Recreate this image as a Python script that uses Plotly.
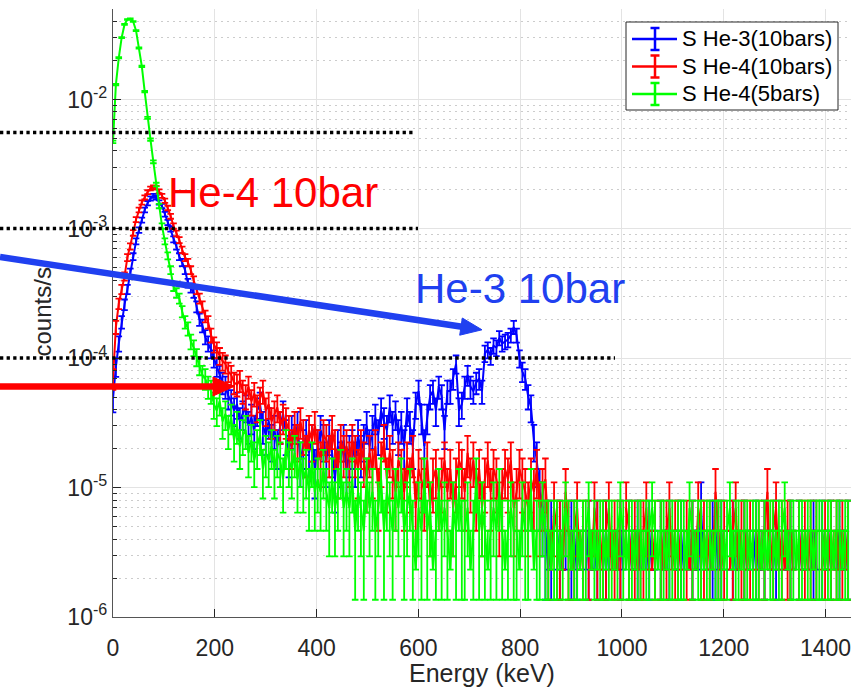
import numpy as np
import plotly.graph_objects as go

# ---------------- data (histogram counts per bin) ----------------
BIN_WIDTH_KEV = 1450 / 256          # energy width of one histogram bin
RATE_PER_COUNT = 2.32e-6            # counts/s corresponding to one recorded count

SERIES_NAMES = ["S He-3(10bars)", "S He-4(10bars)", "S He-4(5bars)"]
SERIES_COLORS = ["#0000ff", "#ff0000", "#00ff00"]

blue_counts = [
    21, 37, 56, 82, 112, 147, 198, 263, 345, 422, 504, 603, 681, 741, 776, 754, 690, 647, 560, 483,
    431, 358, 315, 263, 237, 207, 164, 151, 138, 108, 86, 77, 63, 56, 50, 43, 37, 32, 28, 26, 22,
    20, 17, 19, 14, 16, 18, 13, 15, 12, 17, 19, 13, 11, 14, 10, 12, 9, 13, 16, 11,
    8, 12, 10, 13, 7, 9, 11, 8, 10, 6, 9, 12, 10, 7, 11, 8, 5, 9, 7, 10,
    6, 8, 9, 7, 11, 8, 10, 13, 9, 12, 15, 11, 17, 14, 12, 18, 13, 16, 11,
    13, 9, 17, 13, 9, 19, 24, 15, 9, 15, 22, 24, 17, 26, 22, 12, 24, 24, 30, 39,
    17, 19, 26, 32, 26, 24, 28, 30, 24, 47, 50, 45, 54, 52, 62, 56, 58, 60, 65, 75,
    65, 43, 34, 30, 22, 18, 10, 7, 4, 3,
    2, 1, 2, 0, 1, 2, 1, 1, 0, 2, 1, 2, 1, 0, 1, 2, 1, 1, 2, 0,
    1, 2, 1, 0, 1, 1, 2, 1, 0, 2, 1, 1, 2, 1, 0, 1, 2, 1, 1, 0,
    2, 1, 1, 2, 0, 1, 1, 2, 1, 0, 1, 2, 1, 1, 3, 1, 0, 1, 2, 2,
    1, 2, 1, 0, 1, 2, 1, 1, 0, 2, 1, 0, 1, 2, 1, 1, 2, 0, 1, 1,
    2, 1, 0, 1, 1, 2, 1, 0, 2, 1, 1, 0, 1, 2, 1, 0, 2, 1, 1, 2,
    0, 1, 2, 1, 1, 2,
]

red_counts = [
    30, 75, 114, 147, 185, 259, 315, 401, 509, 603, 690, 754, 828, 884, 905, 897, 841, 776, 711, 625,
    539, 453, 397, 353, 297, 259, 237, 207, 172, 147, 125, 108, 91, 82, 65, 55, 50, 45, 41, 39,
    34, 32, 28,
    27, 29, 24, 22, 26, 20, 23, 18, 21, 24, 17, 19, 14, 16, 18, 13, 15, 14,
    12, 9, 13, 10, 14, 11, 8, 12, 10, 13, 9, 7, 11, 10, 8, 12, 9, 6, 10, 8,
    9, 7, 10, 8, 6, 9, 7, 5, 8, 6, 9, 4, 7, 10, 5, 8, 6, 4, 7,
    6, 4, 7, 5, 8, 3, 6, 5, 4, 7, 3, 5, 6, 4, 5, 7, 4, 6, 3, 5,
    7, 6, 4, 8, 5, 7, 4, 6, 3, 5, 7, 4, 6, 5, 3, 4, 6, 5, 7, 3,
    4, 6, 5, 4, 3, 5, 4, 6, 3, 4, 5,
    2, 1, 3, 2, 2, 1, 4, 2, 1, 2, 3, 1, 2, 0, 2, 1, 3, 2, 1, 2,
    2, 3, 1, 2, 1, 2, 0, 3, 2, 1, 2, 1, 2, 2, 3, 1, 1, 2, 0, 2,
    1, 2, 3, 1, 2, 2, 1, 0, 2, 1, 2, 1, 3, 2, 2, 1, 2, 1, 4, 2,
    1, 2, 0, 1, 2, 3, 1, 2, 2, 1, 2, 0, 1, 2, 1, 2, 4, 1, 2, 3,
    1, 2, 1, 2, 2, 1, 0, 2, 1, 2, 1, 2, 1, 2, 0, 1, 2, 1, 2, 1,
    2, 1, 2, 1, 2,
]

green_counts = [
    2026, 5603, 9052, 12931, 16379, 17888, 18103, 17241, 14655, 10776, 7759, 4957, 3103, 2112,
    1422, 948, 647, 453, 345, 267, 207, 155, 138, 125, 99, 82, 73, 58, 52, 44, 38, 32, 30, 26, 24, 19,
    17, 20, 14, 16, 12, 15, 10, 13, 9, 11, 12, 8, 10, 7, 9, 11, 6, 8, 7, 9,
    6, 8, 7, 5, 9, 7, 6, 8, 5, 7, 5, 6, 4, 7, 4,
    5, 4, 6, 4, 3, 5, 3, 4, 6, 3, 4, 3, 5, 2, 4, 3, 2, 5, 3, 4, 2, 3, 5, 2, 4, 3, 2, 4, 3, 5,
    2, 3, 4, 2, 1, 3, 2, 5, 2, 3, 1, 2, 4, 2, 3, 2, 1, 3, 2, 4, 2, 2, 3, 1, 2,
    5, 2, 3, 2, 1, 2, 3, 2, 4, 2, 1, 2, 3, 2, 2, 1, 3, 2, 2, 4, 1, 2, 2, 3, 2,
    2, 1, 2, 2, 1, 2, 3, 2, 1, 2, 2, 1, 2, 2, 3, 1, 2, 1, 2, 2,
    1, 2, 2, 1, 2, 3, 2, 1, 2, 2, 1, 2, 2, 1, 2, 2, 3, 2, 1, 2,
    2, 1, 2, 2, 1, 2, 2, 2, 1, 3, 2, 1, 2, 2, 1, 2, 2, 1, 2, 2,
    2, 1, 2, 3, 1, 2, 2, 1, 2, 2, 1, 2, 2, 2, 1, 2, 1, 2, 2, 1,
    2, 2, 3, 1, 2, 2, 1, 2, 2, 1, 2, 2, 1, 2, 2, 2, 1, 2, 2, 1,
    2, 2, 1, 2, 2,
]

X_TICKS = [0, 200, 400, 600, 800, 1000, 1200, 1400]
Y_TICKS = [1e-6, 1e-5, 1e-4, 1e-3, 1e-2]
Y_TICK_TEXT = ["10<sup>-6</sup>", "10<sup>-5</sup>", "10<sup>-4</sup>",
               "10<sup>-3</sup>", "10<sup>-2</sup>"]
Y_MINOR = [k * 10.0 ** e for e in range(-6, -1) for k in range(2, 10)] + [2e-2, 3e-2, 4e-2, 5e-2]

ANNOT_HE4 = "He-4 10bar"
ANNOT_HE3 = "He-3 10bar"
X_TITLE = "Energy (keV)"
Y_TITLE = "counts/s"

# ---------------- geometry helpers (plot area in pixels) ----------------
W, H = 859, 691
PL, PT, PW, PH = 113, 9, 738, 608


def fx(xp):
    return (xp - PL) / PW


def fy(yp):
    return 1 - (yp - PT) / PH


FONT = "Liberation Sans, Arial, Helvetica, sans-serif"
AXCOL = "#262626"

fig = go.Figure()
for name, counts, color in zip(SERIES_NAMES, [blue_counts, red_counts, green_counts], SERIES_COLORS):
    c = np.array(counts, dtype=float)
    x = np.arange(len(c)) * BIN_WIDTH_KEV
    y = np.where(c > 0, c * RATE_PER_COUNT, np.nan)
    err = np.sqrt(c) * RATE_PER_COUNT
    err_minus = np.where(c >= 2, err, 0.0)
    fig.add_trace(go.Scatter(
        x=x, y=y, mode="lines", name=name, showlegend=False,
        line=dict(color=color, width=2),
        error_y=dict(type="data", symmetric=False, array=err, arrayminus=err_minus,
                     color=color, thickness=1.8, width=3.3),
    ))

shapes = []
# dotted black reference lines
for yp, x_end in [(132.5, 415), (228.5, 418), (358, 615)]:
    shapes.append(dict(type="line", xref="paper", yref="paper", x0=fx(0), x1=fx(x_end),
                       y0=fy(yp), y1=fy(yp), line=dict(color="black", width=3.3, dash="dot"),
                       layer="above"))

BLUE_ANN = "#2040f0"
RED_ANN = "#ff0000"
# blue arrow
shapes.append(dict(type="line", xref="paper", yref="paper", x0=fx(0), y0=fy(257),
                   x1=fx(462), y1=fy(326.8), line=dict(color=BLUE_ANN, width=6.5), layer="above"))
shapes.append(dict(type="path", xref="paper", yref="paper",
                   path=f"M {fx(462.3)},{fy(318.0)} L {fx(482)},{fy(329.8)} L {fx(459.7)},{fy(335.2)} Z",
                   fillcolor=BLUE_ANN, line=dict(color=BLUE_ANN, width=1), layer="above"))
# red arrow
shapes.append(dict(type="line", xref="paper", yref="paper", x0=fx(0), y0=fy(386.5),
                   x1=fx(214), y1=fy(386.5), line=dict(color=RED_ANN, width=6.5), layer="above"))
shapes.append(dict(type="path", xref="paper", yref="paper",
                   path=f"M {fx(213)},{fy(377)} L {fx(234)},{fy(386.5)} L {fx(213)},{fy(396)} Z",
                   fillcolor=RED_ANN, line=dict(color=RED_ANN, width=1), layer="above"))

# custom legend (MATLAB style with error-bar glyphs)
shapes.append(dict(type="rect", xref="paper", yref="paper", x0=fx(626), x1=fx(838),
                   y0=fy(110), y1=fy(22), fillcolor="white", line=dict(color=AXCOL, width=1),
                   layer="above"))
annotations = []
for r, (name, color) in enumerate(zip(SERIES_NAMES, SERIES_COLORS)):
    yc = 39 + r * 27.5
    shapes.append(dict(type="line", xref="paper", yref="paper", x0=fx(632), x1=fx(677),
                       y0=fy(yc), y1=fy(yc), line=dict(color=color, width=2.5), layer="above"))
    shapes.append(dict(type="line", xref="paper", yref="paper", x0=fx(655), x1=fx(655),
                       y0=fy(yc - 11), y1=fy(yc + 11), line=dict(color=color, width=2.5), layer="above"))
    for dy in (-11, 11):
        shapes.append(dict(type="line", xref="paper", yref="paper", x0=fx(650.5), x1=fx(659.5),
                           y0=fy(yc + dy), y1=fy(yc + dy), line=dict(color=color, width=2.5),
                           layer="above"))
    annotations.append(dict(text=name, xref="paper", yref="paper", x=fx(680), y=fy(yc),
                            xanchor="left", yanchor="middle", showarrow=False,
                            font=dict(family=FONT, size=22, color="black")))

annotations += [
    dict(text=ANNOT_HE4, xref="paper", yref="paper", x=fx(166), y=fy(192.5), xanchor="left",
         yanchor="middle", showarrow=False, font=dict(family=FONT, size=42, color=RED_ANN)),
    dict(text=ANNOT_HE3, xref="paper", yref="paper", x=fx(413), y=fy(288.5), xanchor="left",
         yanchor="middle", showarrow=False, font=dict(family=FONT, size=42, color=BLUE_ANN)),
    dict(text=X_TITLE, xref="paper", yref="paper", x=0.5, y=fy(672.5), xanchor="center",
         yanchor="middle", showarrow=False, font=dict(family=FONT, size=25, color=AXCOL)),
    dict(text=Y_TITLE, xref="paper", yref="paper", x=fx(41.5), y=fy(312), xanchor="center",
         yanchor="middle", textangle=-90, showarrow=False,
         font=dict(family=FONT, size=24, color=AXCOL)),
]

fig.update_layout(
    template="none",
    width=W, height=H,
    margin=dict(l=PL, r=W - PL - PW, t=PT, b=H - PT - PH, autoexpand=False),
    paper_bgcolor="white", plot_bgcolor="white",
    showlegend=False,
    shapes=shapes, annotations=annotations,
    font=dict(family=FONT, color=AXCOL),
    xaxis=dict(range=[0, 1450], tickmode="array", tickvals=X_TICKS, ticks="inside", ticklen=8,
               tickwidth=1, tickcolor=AXCOL, showline=True, linecolor="#555555", linewidth=1.3,
               showgrid=True, gridcolor="#e3e3e3", gridwidth=1, zeroline=False, mirror=False,
               tickfont=dict(family=FONT, size=23, color=AXCOL), automargin=False,
               ticklabelstandoff=10),
    yaxis=dict(type="log", range=[-6, np.log10(0.05)], tickmode="array", tickvals=Y_TICKS,
               ticktext=Y_TICK_TEXT, ticks="inside", ticklen=8, tickwidth=1, tickcolor=AXCOL,
               showline=True, linecolor="#555555", linewidth=1.3, showgrid=True,
               gridcolor="#e3e3e3", gridwidth=1, zeroline=False, mirror=False,
               tickfont=dict(family=FONT, size=23, color=AXCOL), automargin=False,
               minor=dict(tickmode="array", tickvals=Y_MINOR, ticks="inside", ticklen=4,
                          tickcolor=AXCOL, showgrid=True, gridcolor="#cccccc",
                          griddash="2px,4px", gridwidth=1)),
)

fig.write_html("out.html")
